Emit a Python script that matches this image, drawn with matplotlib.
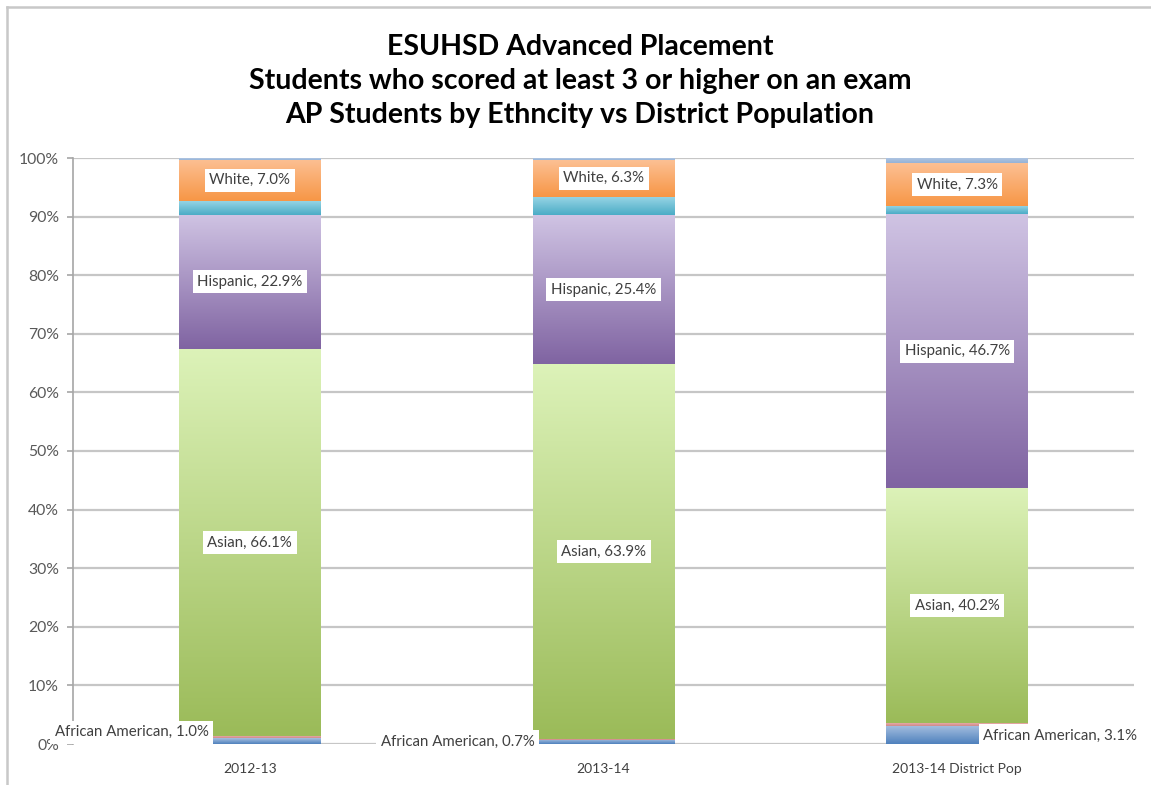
import numpy as np
import matplotlib
matplotlib.use('Agg')
import matplotlib.pyplot as plt
from matplotlib.colors import to_rgb
from matplotlib.lines import Line2D

plt.rcParams['font.family'] = ['Lato', 'DejaVu Sans']

# Data (percent of students)
categories = ['2012-13', '2013-14', '2013-14 District Pop']
african_american = [1.0, 0.7, 3.1]
native_american = [0.3, 0.2, 0.4]
asian = [66.1, 63.9, 40.2]
hispanic = [22.9, 25.4, 46.7]
pacific_islander = [2.4, 3.2, 1.4]
white = [7.0, 6.3, 7.3]
other = [0.3, 0.3, 0.9]

yticks = [0, 10, 20, 30, 40, 50, 60, 70, 80, 90, 100]

# series: (name, values, top colour, bottom colour, labelled?)
series = [
    ('African American', african_american, '#a7c0e0', '#4f81bd', True),
    ('Native American', native_american, '#e6a9a7', '#d08a88', False),
    ('Asian', asian, '#dcf2b8', '#9bbb59', True),
    ('Hispanic', hispanic, '#cfc3e3', '#8064a2', True),
    ('Pacific Islander', pacific_islander, '#9ad6e6', '#4bacc6', False),
    ('White', white, '#fcc093', '#f79646', True),
    ('Other', other, '#b3c7e3', '#95b3d7', False),
]

fig = plt.figure(figsize=(11.51, 7.85), dpi=100)
ax = fig.add_axes([73 / 1151, 41 / 785, 1061 / 1151, 586 / 785])

x = np.arange(len(categories))
width = 0.4
bottom = np.zeros(len(categories))


def gradient_fill(patch, top, base):
    x0, y0 = patch.get_x(), patch.get_y()
    w, h = patch.get_width(), patch.get_height()
    t = np.linspace(0, 1, 64)[:, None]  # 0 = top row
    c1, c2 = np.array(to_rgb(top)), np.array(to_rgb(base))
    img = (1 - t)[..., None] * c1 + t[..., None] * c2
    img = np.repeat(img, 2, axis=1)
    ax.imshow(img, extent=(x0, x0 + w, y0, y0 + h), aspect='auto',
              origin='upper', zorder=2, interpolation='bilinear')


aa_offsets = [(-118, 9), (-146, 0), (103, -1)]

for name, vals, top, base, labelled in series:
    vals = np.array(vals)
    bars = ax.bar(x, vals, width, bottom=bottom, color=base, linewidth=0, zorder=1.5)
    for i, patch in enumerate(bars):
        gradient_fill(patch, top, base)
        if not labelled:
            continue
        cx = patch.get_x() + patch.get_width() / 2
        cy = patch.get_y() + patch.get_height() / 2
        label = f"{name}, {vals[i]:.1f}%"
        if name == 'African American':
            dx, dy = aa_offsets[i]
        else:
            dx, dy = 0, 0
        ax.annotate(label, (cx, cy), xytext=(dx, dy), textcoords='offset pixels',
                    ha='center', va='center', fontsize=10.8, color='#404040', zorder=5,
                    bbox=dict(boxstyle='square,pad=0.3', fc='white', ec='none'))
    bottom += vals

ax.set_xlim(-0.5, 2.5)
ax.set_ylim(0, 100)
ax.set_xticks(x)
ax.set_xticklabels(categories, fontsize=10, color='#404040')
ax.set_yticks(yticks)
ax.set_yticklabels([f"{v}%" for v in yticks], fontsize=11.3, color='#595959')
ax.tick_params(axis='x', length=0, pad=14)
ax.tick_params(axis='y', length=4, width=1.2, color='#a6a6a6', pad=6, direction='out')

ax.grid(axis='y', color='#c6c6c6', linewidth=1.6)
ax.set_axisbelow(True)
for s in ['top', 'right', 'bottom']:
    ax.spines[s].set_visible(False)
ax.spines['left'].set_color('#a6a6a6')
ax.spines['left'].set_linewidth(1.2)

fig.text(0.504, 1 - 81 / 785,
         "ESUHSD Advanced Placement\nStudents who scored at least 3 or higher on an exam\n"
         "AP Students by Ethncity vs District Population",
         ha='center', va='center', fontsize=20.5, fontweight='bold', color='#000000',
         linespacing=1.36)

# outer chart frame (top and left edges)
fig.add_artist(Line2D([7 / 1151, 1], [1 - 7 / 785, 1 - 7 / 785], transform=fig.transFigure,
                      color='#c8c8c8', linewidth=1.8))
fig.add_artist(Line2D([7 / 1151, 7 / 1151], [0, 1 - 7 / 785], transform=fig.transFigure,
                      color='#c8c8c8', linewidth=1.8))

fig.savefig('out.png', dpi=100, facecolor='white')
